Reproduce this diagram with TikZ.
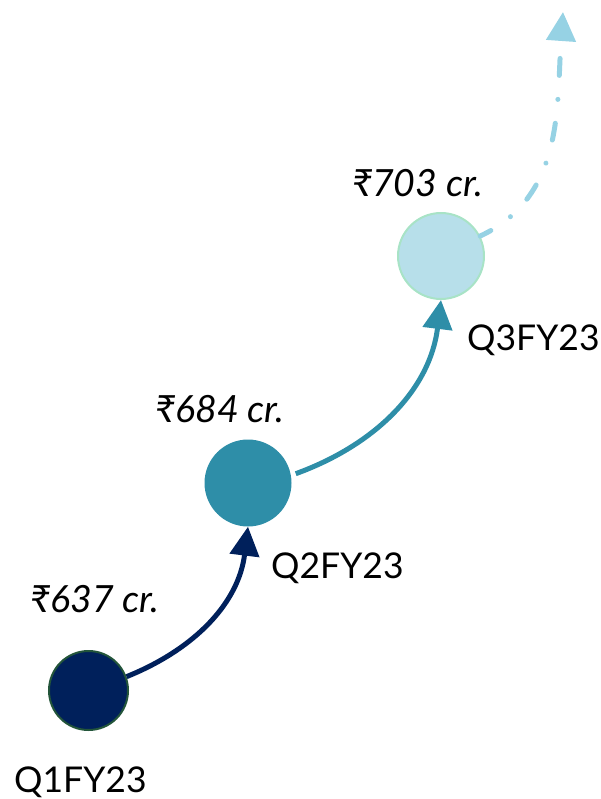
\documentclass[tikz,border=0pt]{standalone}
\usepackage{fontspec}
\setmainfont{Lato}
\usetikzlibrary{arrows.meta}
\definecolor{navy}{HTML}{00205B}
\definecolor{navyedge}{HTML}{23553A}
\definecolor{teal}{HTML}{2E8EA8}
\definecolor{paleblue}{HTML}{B7DFEA}
\definecolor{palegreen}{HTML}{A8E3C6}
\definecolor{skyline}{HTML}{96D2E4}
\tikzset{
  dot/.style={circle, inner sep=0pt},
  lbl/.style={inner sep=0pt, anchor=base west, font=\fontsize{35.5}{38}\selectfont},
  val/.style={inner sep=0pt, anchor=base west, font=\fontsize{37.5}{40}\selectfont\itshape},
  conn/.style={line width=5pt, -{Triangle[length=29pt,width=29pt]}},
}
\begin{document}
\begin{tikzpicture}[x=1pt,y=-1pt]
\useasboundingbox (0,0) rectangle (601,799);
\node[dot, minimum size=79pt, fill=navy, draw=navyedge, line width=2pt] (c1) at (88.5,690.5) {};
\node[dot, minimum size=87pt, fill=teal] (c2) at (248,483) {};
\node[dot, minimum size=86pt, fill=paleblue, draw=palegreen, line width=2pt] (c3) at (441,256) {};
\coordinate (end) at (563,12);
\draw[conn, navy] (c1.20) to[out=22, in=-97] (c2.south);
\draw[conn, teal, shorten <=5pt] (c2.10) to[out=20, in=-97] (c3.south);
\draw[conn, skyline, line cap=round, dash pattern=on 17pt off 24pt on 0.01pt off 24pt, dash phase=5pt] (c3.27) to[out=25, in=-94] (end);
\node[lbl] (q1) at (14,792) {Q1FY23};
\node[lbl] (q2) at (271,578) {Q2FY23};
\node[lbl] (q3) at (467,350) {Q3FY23};
\node[val] (v1) at (30,612) {₹637 cr.};
\node[val] (v2) at (155,422) {₹684 cr.};
\node[val] (v3) at (352,197) {₹703 cr.};
\end{tikzpicture}
\end{document}
